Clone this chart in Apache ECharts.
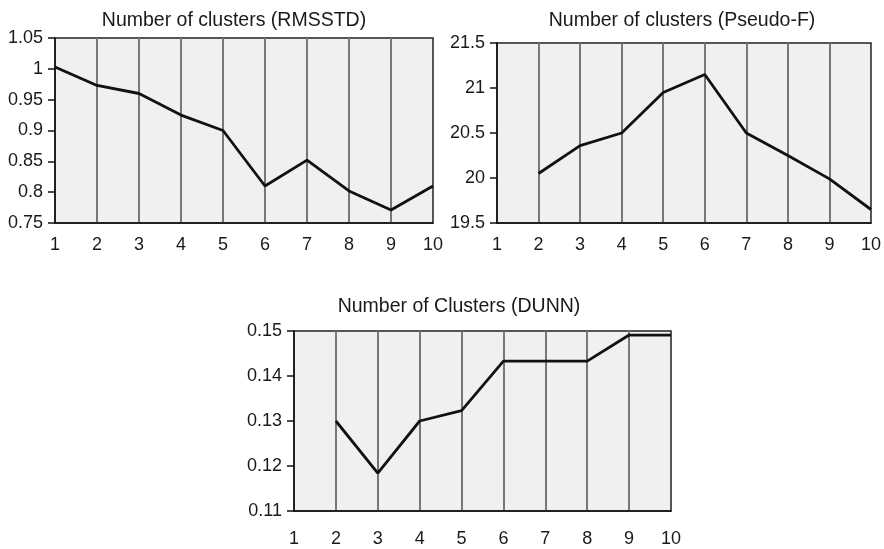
<!DOCTYPE html>
<html>
<head>
<meta charset="utf-8">
<script src="https://cdn.jsdelivr.net/npm/echarts@6/dist/echarts.min.js"></script>
<style>html,body{margin:0;padding:0;background:#fff}#c{width:884px;height:549px}</style>
</head>
<body>
<div id="c"></div>
<script>
// Data
const titles = ['Number of clusters (RMSSTD)', 'Number of clusters (Pseudo-F)', 'Number of Clusters (DUNN)'];
const rmsstdK = [1, 2, 3, 4, 5, 6, 7, 8, 9, 10];
const rmsstdV = [1.003, 0.973, 0.96, 0.925, 0.9, 0.81, 0.852, 0.802, 0.771, 0.81];
const pseudoFK = [2, 3, 4, 5, 6, 7, 8, 9, 10];
const pseudoFV = [20.05, 20.36, 20.5, 20.95, 21.15, 20.5, 20.25, 19.99, 19.65];
const dunnK = [2, 3, 4, 5, 6, 7, 8, 9, 10];
const dunnV = [0.13, 0.1184, 0.13, 0.1323, 0.1433, 0.1433, 0.1433, 0.1491, 0.1491];
const yRanges = [[0.75, 1.05, 0.05], [19.5, 21.5, 0.5], [0.11, 0.15, 0.01]];

const FONT = '"Liberation Sans", Arial, sans-serif';
const pairs = (k, v) => k.map((x, i) => [x, v[i]]);

const grids = [
  {left: 55, top: 38, width: 378, height: 185},
  {left: 497, top: 43, width: 377, height: 180},
  {left: 294, top: 331, width: 377, height: 180}
].map(g => Object.assign(g, {show: true, backgroundColor: '#f0f0f0', borderColor: '#222', borderWidth: 1.5}));

const xMargins = [13, 13, 19];
const xAxes = grids.map((g, i) => ({
  type: 'value', gridIndex: i, min: 1, max: 10, interval: 1,
  axisLine: {show: true, onZero: false, lineStyle: {color: '#111', width: 1.5}},
  axisTick: {show: false},
  axisLabel: {margin: xMargins[i], color: '#1a1a1a', fontFamily: FONT, fontSize: 18, showMinLabel: true, showMaxLabel: true},
  splitLine: {show: true, showMinLine: false, showMaxLine: false, lineStyle: {color: '#777', width: 2}}
}));
const yAxes = yRanges.map((r, i) => ({
  type: 'value', gridIndex: i, min: r[0], max: r[1], interval: r[2],
  axisLine: {show: true, lineStyle: {color: '#111', width: 1.5}},
  axisTick: {show: true, length: 7, lineStyle: {color: '#111', width: 1.5}},
  axisLabel: {margin: 12, color: '#1a1a1a', fontFamily: FONT, fontSize: 18},
  splitLine: {show: false}
}));
const seriesData = [pairs(rmsstdK, rmsstdV), pairs(pseudoFK, pseudoFV), pairs(dunnK, dunnV)];
const series = seriesData.map((d, i) => ({
  type: 'line', xAxisIndex: i, yAxisIndex: i, data: d, symbol: 'none',
  lineStyle: {color: '#111', width: 2.8}, z: 5
}));
const titlePos = [[234, 21], [682, 21], [459, 307]];
const graphic = titles.map((t, i) => ({
  type: 'text', x: titlePos[i][0], y: titlePos[i][1],
  style: {text: t, fill: '#1a1a1a', font: '19.5px ' + FONT, textAlign: 'center', textVerticalAlign: 'middle'}
}));

const chart = echarts.init(document.getElementById('c'), null, {renderer: 'canvas'});
chart.setOption({
  animation: false,
  grid: grids, xAxis: xAxes, yAxis: yAxes, series: series, graphic: graphic
});
</script>
</body>
</html>
